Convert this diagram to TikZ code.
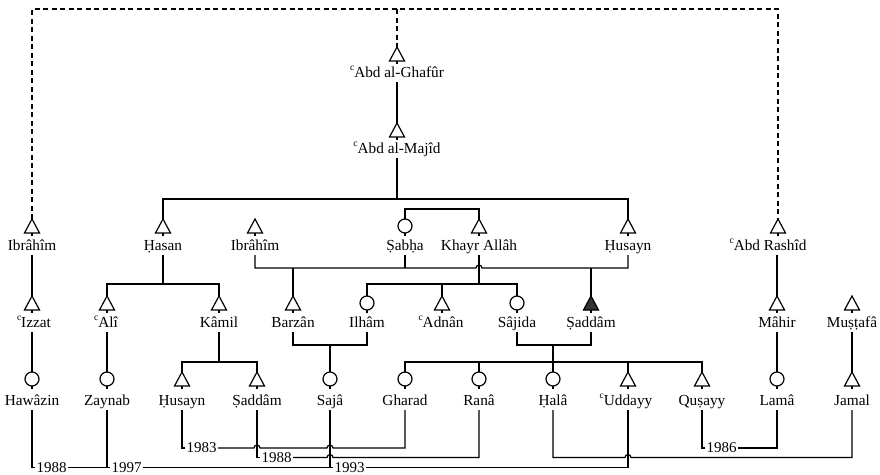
\documentclass[tikz,border=0pt]{standalone}
\usepackage{fontspec}
\setmainfont{Liberation Serif}
\usetikzlibrary{calc}
\newcommand\ayn{\raisebox{7pt}{\fontsize{9.5}{10}\selectfont c}}
\newcommand\PTri[3]{\node[symbox,anchor=north] (#1) at (#2,#3) {};
  \draw[symline] (#1.north) -- (#1.south east) -- (#1.south west) -- cycle;
  \draw[symline] (#1.south) -- ++(0,3);}
\newcommand\PTriF[3]{\node[symbox,anchor=north] (#1) at (#2,#3) {};
  \draw[symline,fill=black!80] (#1.north) -- (#1.south east) -- (#1.south west) -- cycle;
  \draw[symline] (#1.south) -- ++(0,3);}
\newcommand\PCir[3]{\node[symbox,anchor=north,minimum width=14pt] (#1) at (#2,#3) {};
  \draw[symline] (#1.center) circle[radius=7pt];
  \draw[symline] (#1.south) -- ++(0,3);}
\begin{document}
\begin{tikzpicture}[x=1pt,y=-1pt,
  symbox/.style={inner sep=0pt,outer sep=0pt,minimum width=15pt,minimum height=14pt},
  symline/.style={line width=1.2pt},
  lbl/.style={font=\fontsize{15.3}{18}\selectfont,inner sep=0pt,outer sep=0pt,text height=10.5pt,text depth=5pt,anchor=base},
  year/.style={font=\fontsize{15}{18}\selectfont,inner xsep=1.5pt,inner ysep=0pt,outer sep=0pt,anchor=west},
  link/.style={line width=1.2pt},
  kin/.style={line width=1.2pt,dash pattern=on 5pt off 3.5pt}]
\useasboundingbox (0,0) rectangle (880,474);
% level coordinates
\coordinate (top) at (397,9);
\coordinate (l199) at (0,199);
\coordinate (l209) at (0,209);
\coordinate (l268) at (0,268);
\coordinate (l284) at (0,284);
\coordinate (l345) at (0,345);
\coordinate (l362) at (0,362);
\coordinate (l448) at (0,448);
\coordinate (l457) at (0,457.5);
\coordinate (l468) at (0,467.5);
% generation 0
\PTri{ghf}{397}{47}
\node[lbl] (ghfL) at (397,77) {\ayn Abd al-Ghafûr};
\PTri{maj}{397}{123}
\node[lbl] (majL) at (397,153) {\ayn Abd al-Majîd};
% row 2
\PTri{ibr1}{32}{219}   \node[lbl] (ibr1L) at (32,250) {Ibrâhîm};
\PTri{hasan}{163}{219} \node[lbl] (hasanL) at (163,250) {Ḥasan};
\PTri{ibr2}{255}{219}  \node[lbl] (ibr2L) at (255,250) {Ibrâhîm};
\PCir{sabha}{405}{219} \node[lbl] (sabhaL) at (405,250) {Ṣabḥa};
\PTri{khayr}{479}{219} \node[lbl] (khayrL) at (479,250) {Khayr Allâh};
\PTri{husayn}{628}{219} \node[lbl] (husaynL) at (628,250) {Ḥusayn};
\PTri{rashid}{778}{219} \node[lbl] (rashidL) at (768,250) {\ayn Abd Rashîd};
% row 3
\PTri{izzat}{32}{296}   \node[lbl] (izzatL) at (34,327) {\ayn Izzat};
\PTri{ali}{107}{296}    \node[lbl] (aliL) at (106,327) {\ayn Alî};
\PTri{kamil}{219}{296}  \node[lbl] (kamilL) at (219,327) {Kâmil};
\PTri{barzan}{293}{296} \node[lbl] (barzanL) at (293,327) {Barzân};
\PCir{ilham}{367}{296}  \node[lbl] (ilhamL) at (367,327) {Ilhâm};
\PTri{adnan}{442}{296}  \node[lbl] (adnanL) at (441,327) {\ayn Adnân};
\PCir{sajida}{517}{296} \node[lbl] (sajidaL) at (517,327) {Sâjida};
\PTriF{saddam}{591}{296} \node[lbl] (saddamL) at (591,327) {Ṣaddâm};
\PTri{mahir}{777}{296}  \node[lbl] (mahirL) at (777,327) {Mâhir};
\PTri{mustafa}{852}{296} \node[lbl] (mustafaL) at (852,327) {Muṣṭafâ};
% row 4
\PCir{hawazin}{32}{372}  \node[lbl] (hawazinL) at (32,405) {Hawâzin};
\PCir{zaynab}{107}{372}  \node[lbl] (zaynabL) at (107,405) {Zaynab};
\PTri{husayn2}{182}{372} \node[lbl] (husayn2L) at (182,405) {Ḥusayn};
\PTri{saddam2}{257}{372} \node[lbl] (saddam2L) at (257,405) {Ṣaddâm};
\PCir{saja}{330}{372}    \node[lbl] (sajaL) at (330,405) {Sajâ};
\PCir{gharad}{405}{372}  \node[lbl] (gharadL) at (405,405) {Gharad};
\PCir{rana}{479}{372}    \node[lbl] (ranaL) at (479,405) {Ranâ};
\PCir{hala}{553}{372}    \node[lbl] (halaL) at (553,405) {Ḥalâ};
\PTri{uddayy}{628}{372}  \node[lbl] (uddayyL) at (626,405) {\ayn Uddayy};
\PTri{qusayy}{702}{372}  \node[lbl] (qusayyL) at (702,405) {Quṣayy};
\PCir{lama}{777}{372}    \node[lbl] (lamaL) at (777,405) {Lamâ};
\PTri{jamal}{852}{372}   \node[lbl] (jamalL) at (852,405) {Jamal};
% dashed kinship
\draw[kin] (ibr1.north) |- (top) -| (rashid.north);
\draw[kin] (top) -- (ghf.north);
% descent
\draw[link] (ghfL.south) -- (maj.north);
\draw[link] (majL.south) -- (majL.south |- l199);
\draw[link] (hasan.north) |- (majL.south |- l199) -| (husayn.north);
\draw[link] (sabha.north) -- (sabha.north |- l209) -| (khayr.north);
% Sabha's marriages
\draw[link] (ibr2L.south) -- (ibr2L.south |- l268)
  -- ($(khayrL.south |- l268)+(-3,0)$) arc[start angle=180,end angle=360,radius=3]
  -- (husaynL.south |- l268) -- (husaynL.south);
\draw[link] (sabhaL.south) -- (sabhaL.south |- l268);
\draw[link] (barzan.north) -- (barzan.north |- l268);
\draw[link] (saddam.north) -- (saddam.north |- l268);
% Khayr Allah's children
\draw[link] (khayrL.south) -- (khayrL.south |- l284);
\draw[link] (ilham.north) |- (khayrL.south |- l284) -| (sajida.north);
\draw[link] (adnan.north) -- (adnan.north |- l284);
% Hasan's children
\draw[link] (hasanL.south) -- (hasanL.south |- l284);
\draw[link] (ali.north) |- (hasanL.south |- l284) -| (kamil.north);
% single lines
\draw[link] (ibr1L.south) -- (izzat.north);
\draw[link] (izzatL.south -| izzat.north) -- (hawazin.north);
\draw[link] (aliL.south -| ali.north) -- (zaynab.north);
\draw[link] (mahir.north |- rashidL.south) -- (mahir.north);
\draw[link] (mahirL.south) -- (lama.north);
\draw[link] (mustafaL.south) -- (jamal.north);
% Kamil's children
\draw[link] (kamilL.south) -- (kamilL.south |- l362);
\draw[link] (husayn2.north) |- (kamilL.south |- l362) -| (saddam2.north);
% Barzan x Ilham
\draw[link] (barzanL.south) |- (saja.north |- l345) -| (ilhamL.south);
\draw[link] (saja.north |- l345) -- (saja.north);
% Sajida x Saddam
\draw[link] (sajidaL.south) |- (hala.north |- l345) -| (saddamL.south);
\draw[link] (hala.north |- l345) -- (hala.north);
\draw[link] (gharad.north) |- (hala.north |- l362) -| (qusayy.north);
\draw[link] (rana.north) -- (rana.north |- l362);
\draw[link] (uddayy.north) -- (uddayy.north |- l362);
% marriages, bottom
\node[year] (y83) at ($(husayn2L.south |- l448)+(3,0)$) {1983};
\draw[link] (husayn2L.south) |- (y83.west);
\draw[link] (y83.east) -- ($(saddam2L.south |- l448)+(-3,0)$) arc[start angle=180,end angle=360,radius=3]
  -- ($(sajaL.south |- l448)+(-3,0)$) arc[start angle=180,end angle=360,radius=3]
  -| (gharadL.south);
\node[year] (y88a) at ($(saddam2L.south |- l457)+(3,0)$) {1988};
\draw[link] (saddam2L.south) |- (y88a.west);
\draw[link] (y88a.east) -- ($(sajaL.south |- l457)+(-3,0)$) arc[start angle=180,end angle=360,radius=3]
  -| (ranaL.south);
\node[year] (y88b) at ($(hawazinL.south |- l468)+(3,0)$) {1988};
\draw[link] (hawazinL.south) |- (y88b.west);
\node[year] (y97) at ($(zaynabL.south |- l468)+(3,0)$) {1997};
\draw[link] (y88b.east) -- (zaynabL.south |- l468);
\draw[link] (zaynabL.south) |- (y97.west);
\node[year] (y93) at ($(sajaL.south |- l468)+(3,0)$) {1993};
\draw[link] (y97.east) -- (sajaL.south |- l468);
\draw[link] (sajaL.south) |- (y93.west);
\draw[link] (y93.east) -| ($(uddayy.south |- uddayyL.south)$);
\draw[link] (halaL.south) |- ($(uddayy.south |- l457)+(-3,0)$) arc[start angle=180,end angle=360,radius=3]
  -| (jamalL.south);
\node[year] (y86) at ($(qusayyL.south |- l448)+(3,0)$) {1986};
\draw[link] (qusayyL.south) |- (y86.west);
\draw[link] (y86.east) -| (lamaL.south);
\end{tikzpicture}
\end{document}
